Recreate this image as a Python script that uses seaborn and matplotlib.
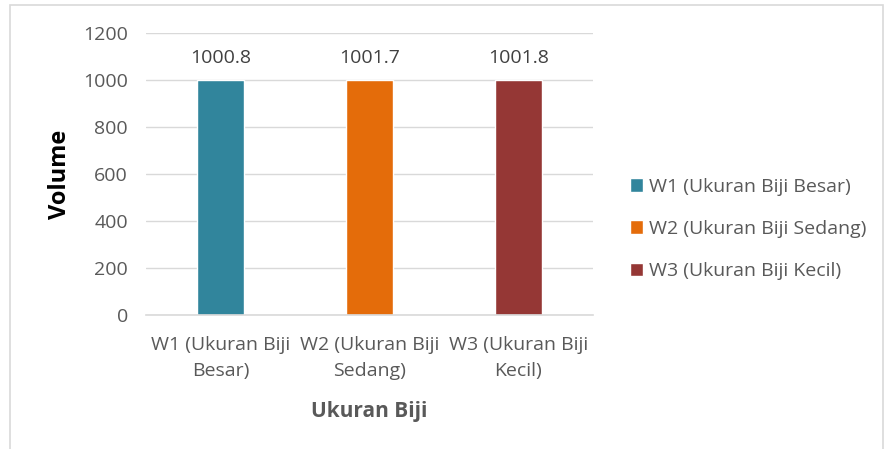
import matplotlib
matplotlib.use("Agg")
import matplotlib.pyplot as plt
import seaborn as sns
import pandas as pd
from matplotlib.patches import Rectangle

# data
categories = ["W1 (Ukuran Biji Besar)", "W2 (Ukuran Biji Sedang)", "W3 (Ukuran Biji Kecil)"]
tick_labels = ["W1 (Ukuran Biji\nBesar)", "W2 (Ukuran Biji\nSedang)", "W3 (Ukuran Biji\nKecil)"]
volume = [1000.8, 1001.7, 1001.8]
colors = ["#31859c", "#e46c0a", "#953735"]

df = pd.DataFrame({"kategori": categories, "volume": volume})

sns.set_style("white")
plt.rcParams["font.family"] = ["Open Sans", "DejaVu Sans"]
text_color = "#595959"
fs = 14

fig = plt.figure(figsize=(8.84, 4.49), dpi=100)
ax = fig.add_axes([146 / 884, 1 - 315 / 449, 447 / 884, 282 / 449])

sns.barplot(data=df, x="kategori", y="volume", hue="kategori", palette=colors,
            dodge=False, width=0.32, ax=ax, legend=True, saturation=1)

ax.set_ylim(0, 1200)
ax.set_yticks(range(0, 1201, 200))
ax.yaxis.grid(True, color="#d9d9d9", linewidth=1)
ax.set_axisbelow(True)
for s in ["top", "right", "left"]:
    ax.spines[s].set_visible(False)
ax.spines["bottom"].set_color("#d9d9d9")
ax.spines["bottom"].set_linewidth(1.2)
ax.tick_params(axis="both", length=0, colors=text_color, labelsize=fs)
ax.set_xticks(range(len(tick_labels)))
ax.set_xticklabels(tick_labels, linespacing=1.6)
ax.tick_params(axis="x", pad=15)
ax.tick_params(axis="y", pad=13)

for i, v in enumerate(volume):
    ax.text(i, v + 55, f"{v:.1f}", ha="center", va="bottom", fontsize=fs, color="#404040")

ax.set_xlabel("Ukuran Biji", fontsize=15, fontweight="bold", color=text_color, labelpad=15)
ax.set_ylabel("Volume", fontsize=17, fontweight="bold", color="black", labelpad=8)

leg = ax.legend(loc="center left", bbox_to_anchor=(612 / 884, 1 - 229 / 449),
                bbox_transform=fig.transFigure, frameon=False, fontsize=fs,
                handlelength=0.7, handleheight=0.7, handletextpad=0.3, labelspacing=1.25)
for t in leg.get_texts():
    t.set_color(text_color)

fig.patches.append(Rectangle((10 / 884, -0.01), 873 / 884, 1 - 5 / 449 + 0.01,
                             transform=fig.transFigure, fill=False,
                             edgecolor="#d9d9d9", linewidth=1.2))

fig.savefig("out.png", dpi=100)
